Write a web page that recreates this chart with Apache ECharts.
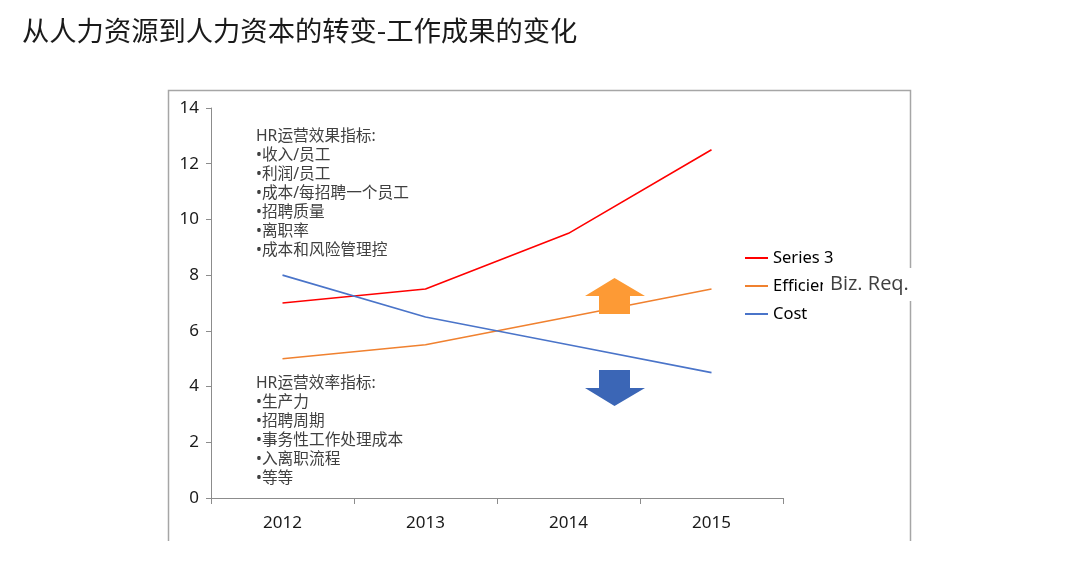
<!DOCTYPE html>
<html>
<head>
<meta charset="utf-8">
<script src="https://cdn.jsdelivr.net/npm/echarts@6/dist/echarts.min.js"></script>
<style>
html,body{margin:0;padding:0;background:#fff;}
#chart{width:1080px;height:561px;}
</style>
</head>
<body>
<div id="chart"></div>
<script>
const categories = ['2012', '2013', '2014', '2015'];
const series3 = [7, 7.5, 9.5, 12.5];
const efficiency = [5, 5.5, 6.5, 7.5];
const cost = [8, 6.5, 5.5, 4.5];
const yTicks = { min: 0, max: 14, interval: 2 };
const titleText = '从人力资源到人力资本的转变-工作成果的变化';
const topNote = 'HR运营效果指标:\n•收入/员工\n•利润/员工\n•成本/每招聘一个员工\n•招聘质量\n•离职率\n•成本和风险管理控';
const bottomNote = 'HR运营效率指标:\n•生产力\n•招聘周期\n•事务性工作处理成本\n•入离职流程\n•等等';

const FONT = '"Noto Sans", "Noto Sans CJK SC", sans-serif';
const chart = echarts.init(document.getElementById('chart'));
const axisColor = '#8c8c8c';

chart.setOption({
  animation: false,
  backgroundColor: '#fff',
  title: {
    text: titleText, left: 17, top: 12,
    textStyle: { fontFamily: '"Noto Sans CJK SC", sans-serif', fontSize: 27.3, fontWeight: 'normal', color: '#1a1a1a' }
  },
  grid: { left: 211, top: 108, right: 297, bottom: 63 },
  legend: {
    orient: 'vertical', left: 740, top: 244,
    icon: 'rect', itemWidth: 23, itemHeight: 2, itemGap: 10,
    textStyle: { fontFamily: FONT, fontSize: 16.5, lineHeight: 18, color: '#000' },
    data: ['Series 3', 'Efficiency', 'Cost']
  },
  xAxis: {
    type: 'category', data: categories, boundaryGap: true,
    axisLine: { lineStyle: { color: axisColor, width: 1 } },
    axisTick: { show: true, length: 6, lineStyle: { color: axisColor } },
    axisLabel: { margin: 17, fontFamily: FONT, fontSize: 17, color: '#1a1a1a' }
  },
  yAxis: {
    type: 'value', min: yTicks.min, max: yTicks.max, interval: yTicks.interval,
    axisLine: { show: true, lineStyle: { color: axisColor, width: 1 } },
    axisTick: { show: true, length: 5, lineStyle: { color: axisColor } },
    splitLine: { show: false },
    axisLabel: { margin: 12, fontFamily: FONT, fontSize: 17, color: '#1a1a1a' }
  },
  series: [
    { name: 'Series 3', type: 'line', data: series3, symbol: 'none', lineStyle: { color: '#ff0000', width: 1.6 }, itemStyle: { color: '#ff0000' } },
    { name: 'Efficiency', type: 'line', data: efficiency, symbol: 'none', lineStyle: { color: '#f0812f', width: 1.6 }, itemStyle: { color: '#f0812f' } },
    { name: 'Cost', type: 'line', data: cost, symbol: 'none', lineStyle: { color: '#4a74c9', width: 1.6 }, itemStyle: { color: '#4a74c9' } }
  ],
  graphic: [
    { type: 'polyline', z: 0, shape: { points: [[168.5, 541], [168.5, 90.5], [910.5, 90.5], [910.5, 268]] }, style: { stroke: '#a6a6a6', lineWidth: 1.5, fill: null } },
    { type: 'line', z: 0, shape: { x1: 910.5, y1: 301, x2: 910.5, y2: 541 }, style: { stroke: '#a6a6a6', lineWidth: 1.5 } },
    { type: 'text', left: 256, top: 127, style: { text: topNote, fontFamily: FONT, fontSize: 15.7, lineHeight: 19, fill: '#404040' } },
    { type: 'text', left: 256, top: 374, style: { text: bottomNote, fontFamily: FONT, fontSize: 15.7, lineHeight: 19, fill: '#404040' } },
    { type: 'polygon', z: 50, shape: { points: [[614.5, 278], [645, 296], [630, 296], [630, 314], [599, 314], [599, 296], [585, 296]] }, style: { fill: '#fd9a35' } },
    { type: 'polygon', z: 50, shape: { points: [[599, 370], [630, 370], [630, 388], [645, 388], [614.5, 406], [585, 388], [599, 388]] }, style: { fill: '#3b66b6' } },
    { type: 'rect', z: 100, shape: { x: 823, y: 268, width: 95, height: 33 }, style: { fill: '#fff' } },
    { type: 'text', z: 101, left: 830, top: 274, style: { text: 'Biz. Req.', fontFamily: '"Open Sans", sans-serif', fontSize: 20, fill: '#404040' } }
  ]
});
</script>
</body>
</html>
